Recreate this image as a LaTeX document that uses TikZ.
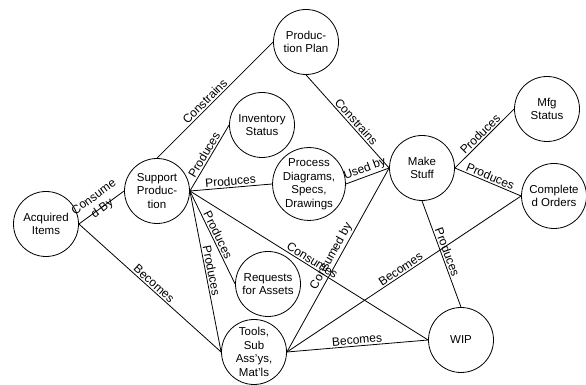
\documentclass[tikz,border=0pt]{standalone}
\usepackage{fontspec}
\setmainfont{Liberation Sans}

\begin{document}
\begin{tikzpicture}[x=1pt, y=1pt, line width=0.8pt,
        entity/.style={draw, circle, minimum size=65pt, inner sep=0pt, align=center,
            font=\fontsize{11.5}{13.5}\selectfont},
        rel/.style={midway, sloped, above, inner sep=1.5pt,
            font=\fontsize{12}{14}\selectfont}]
        \useasboundingbox (0,0) rectangle (586,385);

        % Things
        \node[entity] (acq)   at (46,161)  {Acquired\\Items};
        \node[entity] (sup)   at (157,194) {Support\\Produc-\\tion};
        \node[entity] (plan)  at (306,343) {Produc-\\tion Plan};
        \node[entity] (inv)   at (262,260) {Inventory\\Status};
        \node[entity] (proc)  at (309,201) {Process\\Diagrams,\\Specs,\\Drawings};
        \node[entity] (make)  at (422,217) {Make\\Stuff};
        \node[entity] (mfg)   at (547,276) {Mfg\\Status};
        \node[entity] (comp)  at (554,189) {Complete\\d Orders};
        \node[entity] (req)   at (268,101) {Requests\\for Assets};
        \node[entity] (tools) at (254,33)  {Tools,\\Sub\\Ass'ys,\\Mat'ls};
        \node[entity] (wip)   at (461,45)  {WIP};

        % Support production side
        \draw (acq.east) -- (sup.west) node[rel, above=-9pt, align=center] {Consume\\d By};
        \draw (acq.east) -- (tools.west) node[rel] {Becomes};
        \draw (sup.north) -- (plan.west) node[rel, pos=0.45] {Constrains};
        \draw (sup.east) -- (inv.west) node[rel] {Produces};
        \draw (sup.east) -- (proc.west) node[rel] {Produces};
        \draw (sup.east) -- (req.west) node[rel] {Produces};
        \draw (sup.east) -- (tools.west) node[rel] {Produces};
        \draw (sup.east) -- (wip.west) node[rel] {Consumes};

        % Make stuff side
        \draw (plan.south) -- (make.west) node[rel, pos=0.55] {Constrains};
        \draw (proc.east) -- (make.west) node[rel] {Used by};
        \draw (tools.east) -- (make.west) node[rel] {Consumed by};
        \draw (make.east) -- (mfg.west) node[rel] {Produces};
        \draw (make.east) -- (comp.west) node[rel] {Produces};
        \draw (make.south) -- (wip.north) node[rel] {Produces};
        \draw (tools.east) -- (comp.west) node[rel] {Becomes};
        \draw (tools.east) -- (wip.west) node[rel] {Becomes};
    \end{tikzpicture}
\end{document}
